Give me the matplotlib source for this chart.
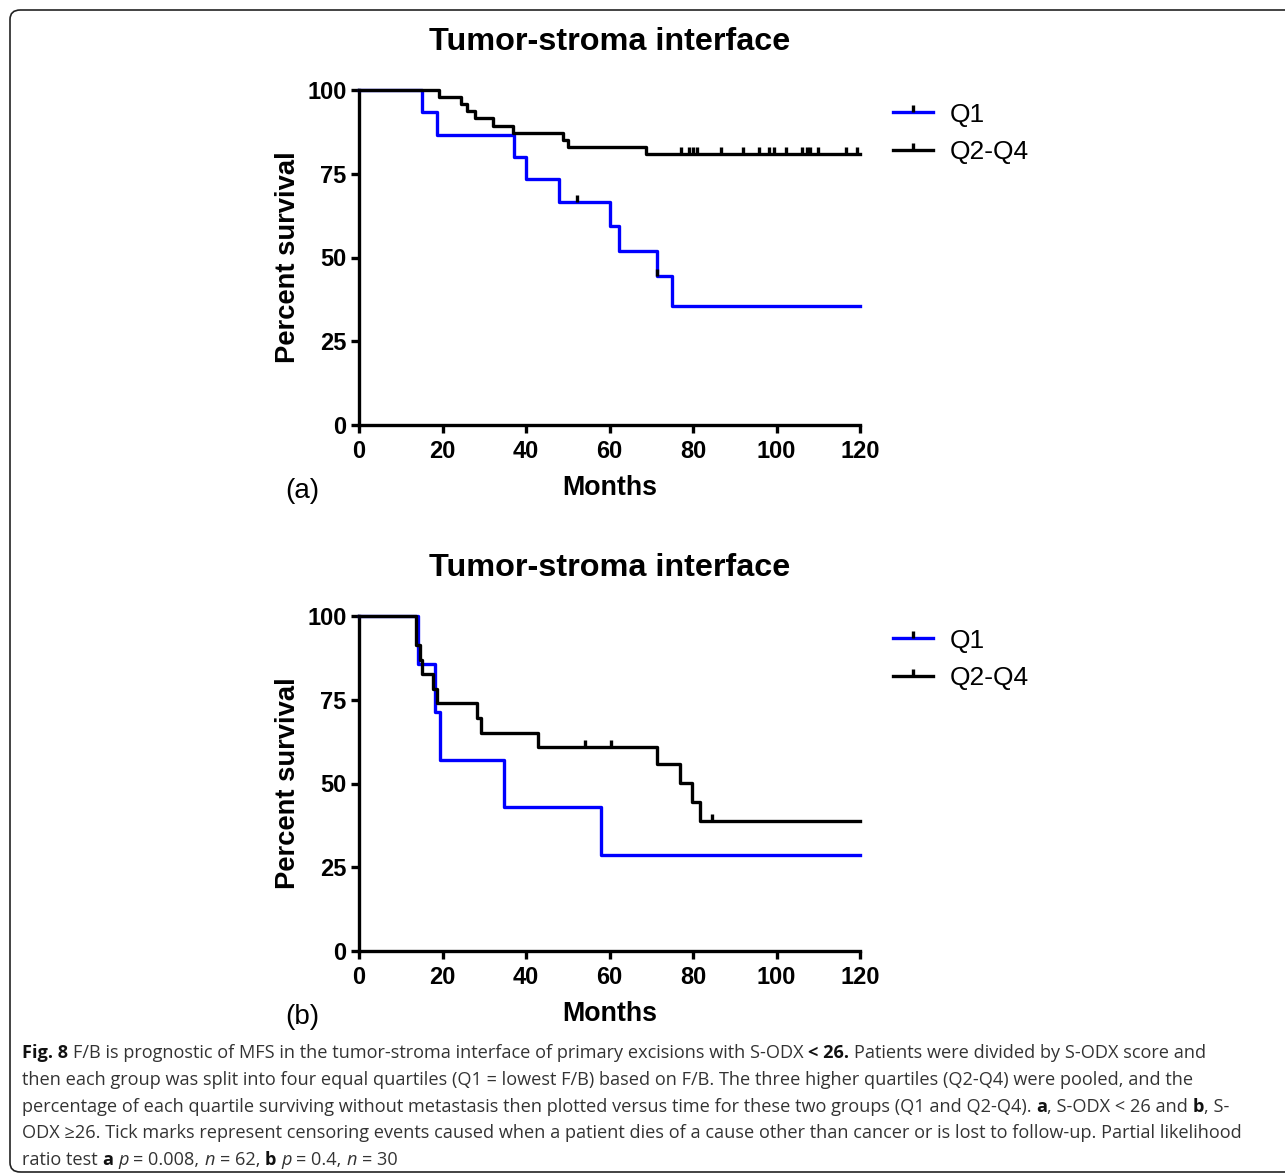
import matplotlib
matplotlib.use('Agg')
import matplotlib.pyplot as plt
from matplotlib.path import Path
from matplotlib.patches import FancyBboxPatch
from matplotlib.legend_handler import HandlerTuple
from matplotlib.lines import Line2D

plt.rcParams['font.family'] = ['Liberation Sans', 'DejaVu Sans']

# panel (a): S-ODX < 26
a_q1_months = [0, 15.2, 18.6, 37.1, 39.9, 47.9, 60.0, 62.2, 71.4, 75.0, 120]
a_q1_surv = [100, 93.3, 86.7, 80.0, 73.3, 66.7, 59.3, 51.9, 44.4, 35.6, 35.6]
a_q1_cens_months = [52.2, 71.4]
a_q1_cens_surv = [66.7, 44.4]

a_q24_months = [0, 19.2, 24.4, 25.8, 27.8, 32.2, 37.0, 48.9, 50.1, 68.7, 120]
a_q24_surv = [100, 97.9, 95.7, 93.6, 91.5, 89.4, 87.2, 85.1, 83.0, 80.9, 80.9]
a_q24_cens_months = [77.1, 79.1, 79.9, 80.9, 86.7, 91.9, 95.9, 98.3, 99.4, 102.3,
                     106.0, 107.4, 108.0, 110.0, 116.6, 119.4]
a_q24_cens_surv = [80.9] * len(a_q24_cens_months)

# panel (b): S-ODX >= 26
b_q1_months = [0, 14.2, 18.2, 19.4, 34.8, 57.9, 120]
b_q1_surv = [100, 85.7, 71.4, 57.1, 42.9, 28.6, 28.6]
b_q1_cens_months = []
b_q1_cens_surv = []

b_q24_months = [0, 13.6, 14.6, 15.2, 17.8, 18.6, 28.2, 29.2, 42.8, 71.3, 77.0, 79.7, 81.7, 120]
b_q24_surv = [100, 91.3, 87.0, 82.6, 78.3, 73.9, 69.6, 65.2, 60.9, 55.8, 50.1, 44.4, 38.9, 38.9]
b_q24_cens_months = [54.1, 60.4, 84.5]
b_q24_cens_surv = [60.9, 60.9, 38.9]

x_ticks = [0, 20, 40, 60, 80, 100, 120]
y_ticks = [0, 25, 50, 75, 100]
group_labels = ['Q1', 'Q2-Q4']
title = 'Tumor-stroma interface'

W, H = 1285, 1176
LW = 2.4
tick_mark = Path([(0, 0), (0, 1)], [Path.MOVETO, Path.LINETO])

fig = plt.figure(figsize=(W / 100, H / 100), dpi=100)


def km_panel(top_px, q1, q24, tag):
    ax = fig.add_axes([359 / W, 1 - (top_px + 335) / H, 501 / W, 335 / H])
    handles = []
    for (t, s, ct, cs), col in zip([q1, q24], ['#0000ff', 'black']):
        ax.step(t, s, where='post', color=col, lw=LW, clip_on=False, zorder=3)
        ax.plot(ct, cs, ls='none', marker=tick_mark, ms=10, mew=LW, color='black',
                clip_on=False, zorder=4)
        handles.append((Line2D([], [], color=col, lw=LW),
                        Line2D([], [], ls='none', marker=tick_mark, ms=10, mew=LW, color='black')))
    ax.set_xlim(0, 120)
    ax.set_ylim(0, 100)
    ax.set_xticks(x_ticks)
    ax.set_yticks(y_ticks)
    for side in ['top', 'right']:
        ax.spines[side].set_visible(False)
    for side in ['left', 'bottom']:
        ax.spines[side].set_linewidth(LW)
    ax.tick_params(direction='out', length=6, width=LW, labelsize=17)
    ax.tick_params(axis='x', pad=5)
    ax.tick_params(axis='y', pad=3)
    for lab in ax.get_xticklabels() + ax.get_yticklabels():
        lab.set_fontweight('bold')
    ax.set_title(title, fontsize=23.3, fontweight='bold', pad=29)
    ax.set_xlabel('Months', fontsize=19.3, fontweight='bold', va='center')
    ax.xaxis.set_label_coords(0.5, -(488 - 425) / 335)
    ax.set_ylabel('Percent survival', fontsize=19.7, fontweight='bold', va='center')
    ax.yaxis.set_label_coords((288 - 359) / 501, 0.5)
    ax.legend(handles, group_labels, handler_map={tuple: HandlerTuple(ndivide=1)},
              loc='upper left', bbox_to_anchor=(1.066, 0.962), frameon=False, fontsize=19,
              handlelength=1.5, handletextpad=0.65, labelspacing=0.52, borderpad=0,
              borderaxespad=0)
    fig.text(302 / W, 1 - (top_px + 401) / H, tag, fontsize=20, ha='center', va='center')
    return ax


km_panel(90, (a_q1_months, a_q1_surv, a_q1_cens_months, a_q1_cens_surv),
         (a_q24_months, a_q24_surv, a_q24_cens_months, a_q24_cens_surv), '(a)')
km_panel(616, (b_q1_months, b_q1_surv, b_q1_cens_months, b_q1_cens_surv),
         (b_q24_months, b_q24_surv, b_q24_cens_months, b_q24_cens_surv), '(b)')

# caption, written run by run so bold / italic bits can be mixed
caption = [
    [('Fig. 8', 'b'), (' F/B is prognostic of MFS in the tumor-stroma interface of primary excisions with S-ODX ', 'n'),
     ('< 26.', 'b'), (' Patients were divided by S-ODX score and', 'n')],
    [('then each group was split into four equal quartiles (Q1 = lowest F/B) based on F/B. The three higher quartiles (Q2-Q4) were pooled, and the', 'n')],
    [('percentage of each quartile surviving without metastasis then plotted versus time for these two groups (Q1 and Q2-Q4). ', 'n'),
     ('a', 'b'), (', S-ODX < 26 and ', 'n'), ('b', 'b'), (', S-', 'n')],
    [('ODX \u226526. Tick marks represent censoring events caused when a patient dies of a cause other than cancer or is lost to follow-up. Partial likelihood', 'n')],
    [('ratio test ', 'n'), ('a', 'b'), (' ', 'n'), ('p', 'i'), (' = 0.008, ', 'n'), ('n', 'i'), (' = 62, ', 'n'),
     ('b', 'b'), (' ', 'n'), ('p', 'i'), (' = 0.4, ', 'n'), ('n', 'i'), (' = 30', 'n')],
]
cap_font = ['Open Sans', 'DejaVu Sans']
cap_size = 13.1
cap_color = '#333333'
renderer = fig.canvas.get_renderer()


def run_props(style):
    if style == 'b':
        return dict(fontweight='bold', color='#111111')
    if style == 'i':
        return dict(fontstyle='italic', color=cap_color)
    return dict(color=cap_color)


def text_width(s, **kw):
    t = fig.text(0, 0, s, family=cap_font, fontsize=cap_size, **kw)
    w = t.get_window_extent(renderer).width
    t.remove()
    return w


space_w = text_width('x x') - text_width('xx')

for i, line in enumerate(caption):
    x = 22.0
    y = 1 - (1053 + i * 26.8) / H
    for s, style in line:
        props = run_props(style)
        lead = len(s) - len(s.lstrip(' '))
        trail = len(s) - len(s.rstrip(' '))
        x += lead * space_w
        core = s.strip(' ')
        if core:
            t = fig.text(x / W, y, core, family=cap_font, fontsize=cap_size, va='center', **props)
            x += t.get_window_extent(renderer).width
        if trail and core:
            x += trail * space_w

# rounded frame; its right side runs off the picture like in the original
box = FancyBboxPatch((10 / W, 4 / H), 1300 / W, 1162 / H, boxstyle='round,pad=0,rounding_size=0.008',
                     transform=fig.transFigure, fill=False, ec='#222222', lw=1.2)
fig.add_artist(box)

fig.savefig('out.png', dpi=100)
